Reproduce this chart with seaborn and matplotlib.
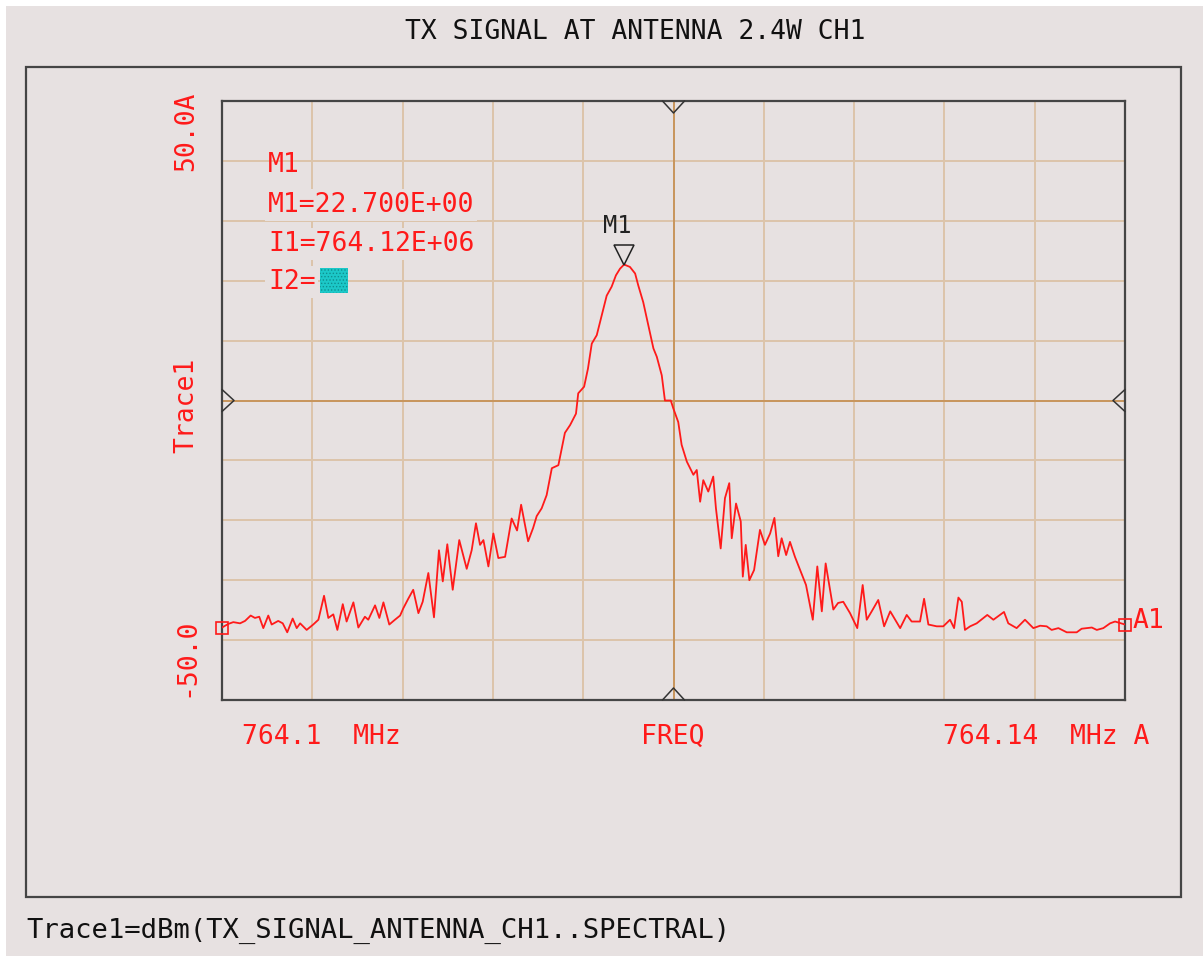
import numpy as np
import pandas as pd
import matplotlib
matplotlib.use('Agg')
import matplotlib.pyplot as plt
from matplotlib.patches import Rectangle
from matplotlib.transforms import ScaledTranslation
import seaborn as sns

# colours of the analyzer screen
BG = '#e7e1e1'
RED = '#ff1a1a'
GRID = '#dcc4aa'
GRID_MID = '#c8955c'
FRAME = '#454545'

# trace: offset from 764.10 MHz (kHz) and level (dBm)
offset_khz = [
    0.0, 0.28, 0.50, 0.80, 1.02, 1.27, 1.46, 1.65, 1.83, 2.05,
    2.20, 2.49, 2.69, 2.89, 3.13, 3.31, 3.46, 3.75, 4.04, 4.27,
    4.52, 4.71, 4.93, 5.11, 5.35, 5.52, 5.82, 6.04, 6.33, 6.48,
    6.78, 6.97, 7.15, 7.41, 7.66, 7.89, 8.03, 8.25, 8.47, 8.70,
    8.89, 9.14, 9.39, 9.61, 9.78, 9.98, 10.22, 10.51, 10.84, 11.06,
    11.25, 11.43, 11.58, 11.80, 12.02, 12.24, 12.54, 12.83, 13.07, 13.25,
    13.56, 13.78, 13.94, 14.16, 14.38, 14.61, 14.90, 15.19, 15.42, 15.68,
    15.78, 16.04, 16.21, 16.38, 16.60, 16.82, 17.04, 17.26, 17.45, 17.63,
    17.81, 18.07, 18.30, 18.44, 18.66, 18.88, 19.11, 19.26, 19.48, 19.62,
    19.88, 19.99, 20.21, 20.36, 20.59, 20.88, 21.03, 21.18, 21.32, 21.54,
    21.76, 21.88, 22.09, 22.28, 22.47, 22.58, 22.77, 22.98, 23.07, 23.20,
    23.36, 23.57, 23.83, 24.05, 24.28, 24.47, 24.64, 24.79, 24.99, 25.16,
    25.38, 25.61, 25.87, 26.17, 26.37, 26.57, 26.74, 27.08, 27.29, 27.52,
    27.82, 28.14, 28.38, 28.56, 28.78, 29.07, 29.33, 29.60, 30.04, 30.33,
    30.55, 30.92, 31.10, 31.29, 31.66, 31.95, 32.25, 32.43, 32.62, 32.77,
    32.91, 33.14, 33.43, 33.90, 34.17, 34.64, 34.83, 35.20, 35.57, 35.94,
    36.24, 36.53, 36.75, 37.05, 37.42, 37.86, 38.08, 38.53, 38.75, 39.04,
    39.34, 39.56, 40.0,
]
level_dbm = [
    -37.9, -37.3, -37.0, -37.2, -36.8, -35.9, -36.3, -36.1, -38.0, -35.9,
    -37.4, -36.8, -37.2, -38.7, -36.4, -38.0, -37.2, -38.3, -37.4, -36.6,
    -32.6, -36.3, -35.7, -38.3, -34.0, -36.9, -33.7, -37.9, -36.1, -36.6,
    -34.2, -36.3, -33.7, -37.4, -36.6, -35.9, -34.7, -33.1, -31.6, -35.5,
    -33.6, -28.8, -36.2, -25.0, -30.2, -24.0, -31.6, -23.3, -28.1, -25.0,
    -20.5, -24.1, -23.3, -27.7, -22.2, -26.3, -26.1, -19.7, -21.7, -17.4,
    -23.5, -21.3, -19.3, -18.0, -15.8, -11.3, -10.8, -5.4, -4.1, -2.2,
    1.2, 2.3, 5.3, 9.5, 10.9, 14.2, 17.5, 19.0, 20.9, 22.0,
    22.7, 22.3, 21.2, 19.2, 16.4, 12.6, 8.7, 7.3, 4.2, 0.0,
    0.0, -1.3, -3.6, -7.4, -10.2, -12.4, -11.6, -16.9, -13.3, -15.2,
    -12.7, -18.0, -24.7, -16.3, -13.8, -23.0, -17.2, -20.2, -29.4, -24.1,
    -30.0, -28.3, -21.6, -24.1, -22.2, -19.6, -26.0, -23.0, -25.8, -23.6,
    -26.1, -28.3, -30.8, -36.6, -27.7, -35.2, -27.2, -34.9, -33.8, -33.6,
    -35.5, -38.0, -30.8, -36.6, -35.2, -33.3, -37.7, -35.2, -38.0, -35.8,
    -36.9, -36.9, -33.1, -37.4, -37.7, -37.7, -36.6, -38.0, -32.9, -33.6,
    -38.3, -37.7, -37.2, -35.8, -36.6, -35.3, -37.2, -38.0, -36.6, -38.0,
    -37.6, -37.7, -38.3, -38.0, -38.7, -38.7, -38.1, -37.9, -38.3, -38.0,
    -37.2, -36.9, -37.4,
]

f_start, f_stop = 764.10, 764.14
y_min, y_max = -50.0, 50.0
marker_freq = 764.1178
marker_val = 22.7

W, H = 1203, 956


def fx(x):
    return x / W


def fy(y):
    return 1 - y / H


sns.set_style('white')
plt.rcParams['font.family'] = ['DejaVu Sans Mono', 'DejaVu Sans']

fig = plt.figure(figsize=(W / 100, H / 100), dpi=100, facecolor='white')
# grey screen + outer frame
fig.patches.append(Rectangle((fx(6), 0), 1 - fx(6), fy(6), transform=fig.transFigure,
                             facecolor=BG, edgecolor='none', zorder=-10))
fig.patches.append(Rectangle((fx(26), fy(897)), fx(1181 - 26), (897 - 67) / H,
                             transform=fig.transFigure, facecolor='none',
                             edgecolor=FRAME, lw=1.6, zorder=-5))

ax = fig.add_axes([fx(222), fy(700), fx(903), 599 / H])
ax.set_facecolor(BG)

df = pd.DataFrame({'freq': f_start + np.array(offset_khz) / 1000.0, 'dbm': level_dbm})
sns.lineplot(data=df, x='freq', y='dbm', ax=ax, color=RED, lw=1.3,
             estimator=None, sort=False, zorder=3)

# end squares on the trace
ends = df.iloc[[0, -1]]
ax.plot(ends['freq'], ends['dbm'], ls='none', marker='s', ms=8, mfc='none',
        mec=RED, mew=1.2, clip_on=False, zorder=4)

ax.set_xlim(f_start, f_stop)
ax.set_ylim(y_min, y_max)
ax.set_xticks(np.linspace(f_start, f_stop, 11))
ax.set_yticks(np.arange(-50, 51, 10))
ax.tick_params(length=0, labelbottom=False, labelleft=False)
ax.set_xlabel('')
ax.set_ylabel('')
ax.grid(True, color=GRID, lw=1.4)
ax.set_axisbelow(True)
ax.axvline((f_start + f_stop) / 2, color=GRID_MID, lw=1.4, zorder=1)
ax.axhline(0, color=GRID_MID, lw=1.4, zorder=1)
for s in ax.spines.values():
    s.set_color(FRAME)
    s.set_linewidth(1.6)

# small open triangles at the centre of each edge (pointing inwards)
dx, dy = 11 / 903, 12 / 599
hx, hy = 12 / 903, 11 / 599
tri = [
    ([0.5 - dx, 0.5, 0.5 + dx], [1, 1 - dy, 1]),
    ([0.5 - dx, 0.5, 0.5 + dx], [0, dy, 0]),
    ([0, hx, 0], [0.5 - hy, 0.5, 0.5 + hy]),
    ([1, 1 - hx, 1], [0.5 - hy, 0.5, 0.5 + hy]),
]
for xs, ys in tri:
    ax.plot(xs, ys, color='#333333', lw=1.1, transform=ax.transAxes, clip_on=False, zorder=5)

# marker M1: open triangle sitting on the peak
ax.plot([marker_freq], [marker_val], ls='none', marker='v', ms=15, mfc='none',
        mec='#222222', mew=1.1, zorder=5,
        transform=ax.transData + ScaledTranslation(0, 10 / 100, fig.dpi_scale_trans))
ax.annotate('M1', xy=(marker_freq, marker_val), xytext=(-7, 39), textcoords='offset pixels',
            ha='center', va='center', fontsize=17, color='#222222')

# marker readout
FS = 19
fig.text(fx(268), fy(165), 'M1', color=RED, fontsize=FS, va='center', ha='left')
box = dict(boxstyle='square,pad=0.1', fc=BG, ec='none')
fig.text(fx(268), fy(205), 'M1=22.700E+00', color=RED, fontsize=FS, va='center', ha='left', bbox=box)
fig.text(fx(268), fy(244), 'I1=764.12E+06', color=RED, fontsize=FS, va='center', ha='left', bbox=box)
fig.text(fx(268), fy(282), 'I2=', color=RED, fontsize=FS, va='center', ha='left', bbox=box)
plt.rcParams['hatch.linewidth'] = 0.6
fig.patches.append(Rectangle((fx(320), fy(293)), fx(28), 25 / H, transform=fig.transFigure,
                             facecolor='#1cc8c8', edgecolor='#0e9090', hatch='.....', lw=0, zorder=6))

# axis annotations
fig.text(fx(635), fy(32), 'TX SIGNAL AT ANTENNA 2.4W CH1', color='#111111', fontsize=FS,
         ha='center', va='center')
fig.text(fx(186), fy(131), '50.0A', color=RED, fontsize=FS, rotation=90, ha='center', va='center')
fig.text(fx(186), fy(405), 'Trace1', color=RED, fontsize=FS, rotation=90, ha='center', va='center')
fig.text(fx(186), fy(657), '-50.0', color=RED, fontsize=FS, rotation=90, ha='center', va='center')
fig.text(fx(242), fy(737), '764.1  MHz', color=RED, fontsize=FS, ha='left', va='center')
fig.text(fx(641), fy(737), 'FREQ', color=RED, fontsize=FS, ha='left', va='center')
fig.text(fx(943), fy(737), '764.14  MHz A', color=RED, fontsize=FS, ha='left', va='center')
fig.text(fx(1133), fy(621), 'A1', color=RED, fontsize=FS, ha='left', va='center')
fig.text(fx(26), fy(931), 'Trace1=dBm(TX_SIGNAL_ANTENNA_CH1..SPECTRAL)', color='#111111',
         fontsize=19.6, ha='left', va='center')

fig.savefig('out.png', dpi=100, facecolor='white')
